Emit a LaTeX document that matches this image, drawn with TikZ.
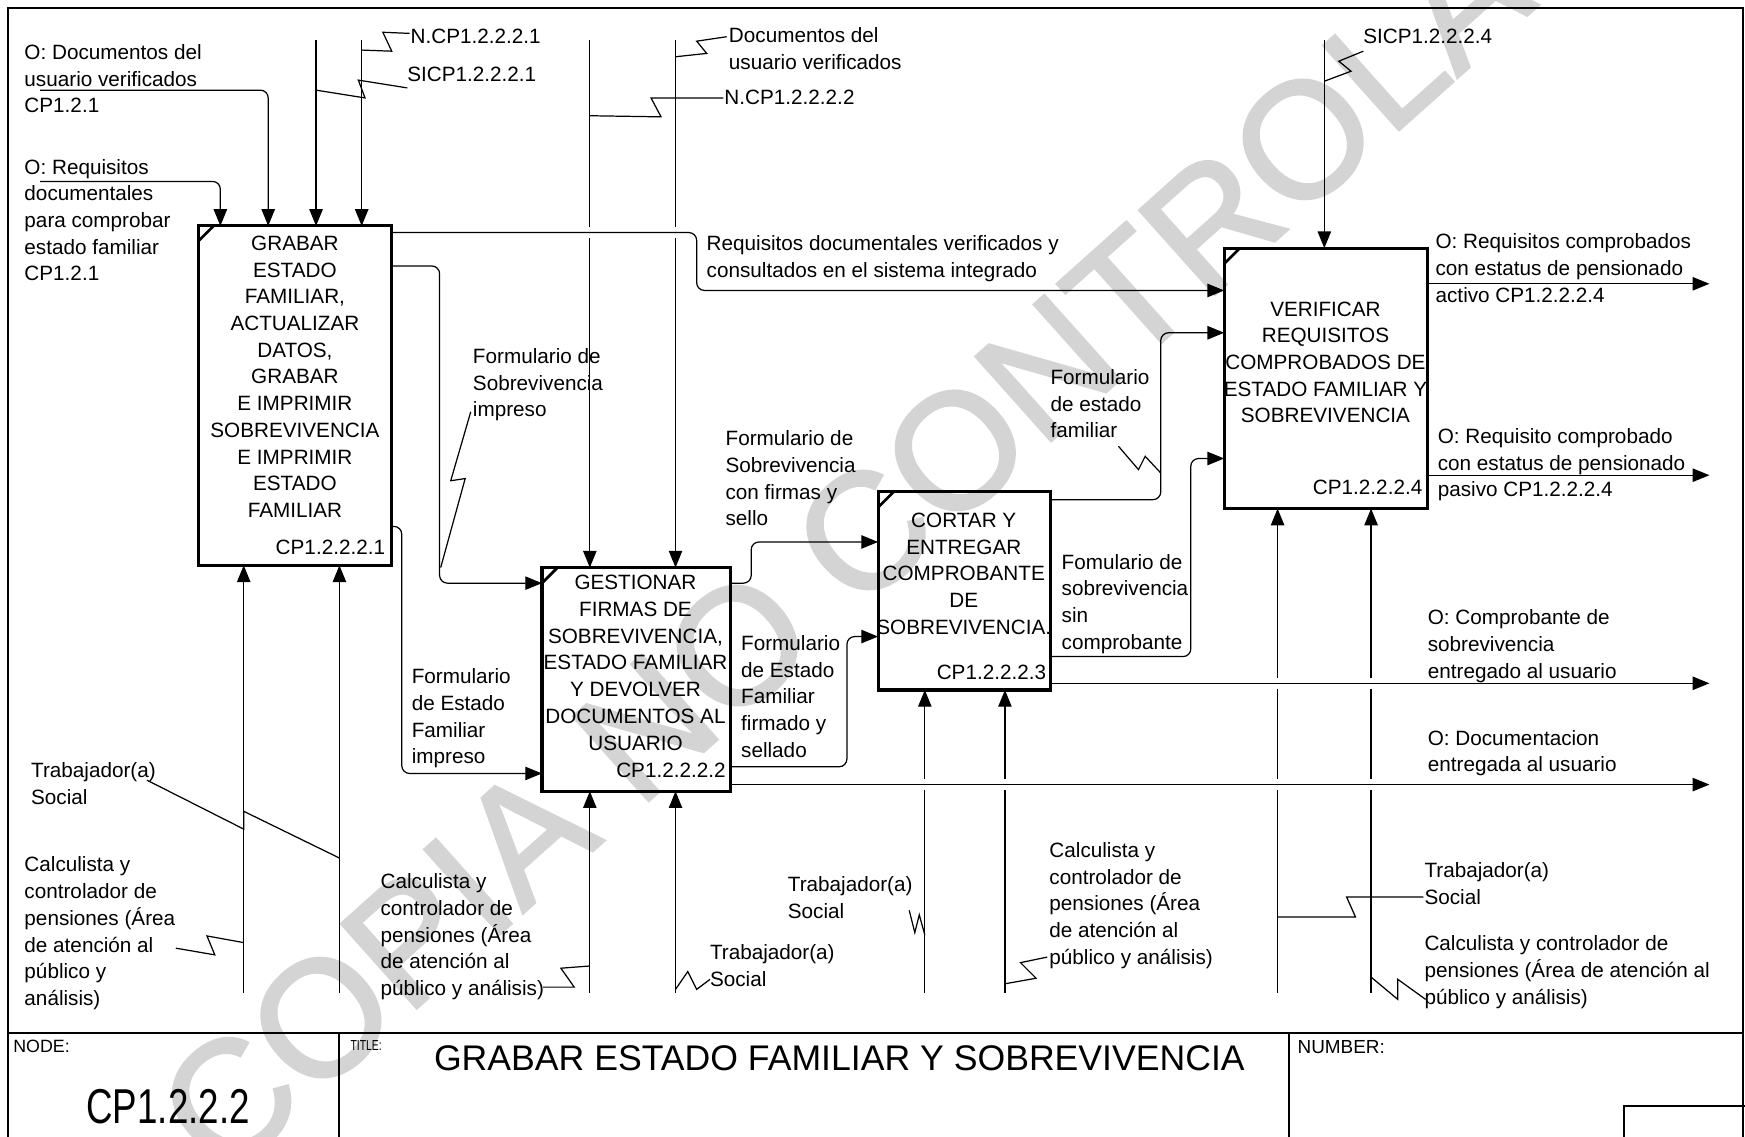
\documentclass[tikz,border=0pt]{standalone}
\usepackage{fontspec}
\setmainfont{Liberation Sans}
\newfontfamily\narrowfont{Liberation Sans}[FakeStretch=0.75]
\newfontfamily\tinyfont{Liberation Sans}[FakeStretch=0.72]
\newfontfamily\wmfont{Liberation Sans}[FakeBold=1.6]
\usetikzlibrary{arrows.meta,calc}
\begin{document}
\begin{tikzpicture}[x=0.5pt,y=-0.5pt,
  every node/.style={inner sep=0pt,outer sep=0pt},
  ln/.style={line width=0.55pt},
  arr/.style={ln, rounded corners=3.5pt, -{Triangle[length=7.5pt,width=6pt]}},
  sq/.style={ln, line join=miter},
  boxst/.style={draw, line width=1.4pt, anchor=north west},
  frame/.style={line width=0.9pt},
  lab/.style={anchor=north west, align=left, font=\fontsize{9.3}{12}\selectfont},
  btxt/.style={anchor=north, align=center, font=\fontsize{9.3}{12}\selectfont},
  num/.style={anchor=north east, font=\fontsize{9.3}{12}\selectfont},
  wm/.style={text=black!17, font=\wmfont\fontsize{74}{80}\selectfont},
]
\useasboundingbox (0,0) rectangle (1568,1021);
\fill[white] (0,0) rectangle (1568,1021);

% watermark
\node[wm, rotate=41.8, anchor=base west] (wmark) at (200,1062) {COPIA NO CONTROLADA};

% frame and footer
\draw[frame] (7,7) rectangle (1566,1030);
\draw[frame] (7,928) -- (1566,928);
\draw[frame] (305,928) -- (305,1030);
\draw[frame] (1158,928) -- (1158,1030);
\draw[frame] (1459,994) rectangle (1570,1030);
\node[anchor=north west, font=\fontsize{8}{9}\selectfont] (fnode) at (12,935) {NODE:};
\node[font=\narrowfont\fontsize{22}{24}\selectfont] (fnodeval) at (151,994) {CP1.2.2.2};
\node[anchor=north west, font=\tinyfont\fontsize{6.5}{7}\selectfont] (ftitle) at (315,935) {TITLE:};
\node[anchor=west, font=\fontsize{16}{18}\selectfont] (ftitleval) at (390,951) {GRABAR ESTADO FAMILIAR Y SOBREVIVENCIA};
\node[anchor=north west, font=\fontsize{8.5}{9}\selectfont] (fnumber) at (1166,935) {NUMBER:};

% boxes
\node[boxst, minimum width=87pt, minimum height=152.5pt] (b1) at (178,203) {};
\node[boxst, minimum width=84.5pt, minimum height=100.5pt] (b2) at (487,510) {};
\node[boxst, minimum width=77.5pt, minimum height=89pt] (b3) at (789,442) {};
\node[boxst, minimum width=91.5pt, minimum height=117pt] (b4) at (1100,223) {};
\foreach \b in {b1,b2,b3,b4}
  \draw[line width=1.2pt] ($(\b.north west)+(0,14)$) -- ($(\b.north west)+(14,0)$);

\node[btxt] (t1) at (265,212) {GRABAR\\ESTADO\\FAMILIAR,\\ACTUALIZAR\\DATOS,\\GRABAR\\E IMPRIMIR\\SOBREVIVENCIA\\E IMPRIMIR\\ESTADO\\FAMILIAR};
\node[btxt] (t2) at (571,517) {GESTIONAR\\FIRMAS DE\\SOBREVIVENCIA,\\ESTADO FAMILIAR\\Y DEVOLVER\\DOCUMENTOS AL\\USUARIO};
\node[btxt] (t3) at (866,461) {CORTAR Y\\ENTREGAR\\COMPROBANTE\\DE\\SOBREVIVENCIA.};
\node[btxt] (t4) at (1191,271) {VERIFICAR\\REQUISITOS\\COMPROBADOS DE\\ESTADO FAMILIAR Y\\SOBREVIVENCIA};
\node[num] (n1) at (346,485) {CP1.2.2.2.1};
\node[num] (n2) at (652,686) {CP1.2.2.2.2};
\node[num] (n3) at (940,598) {CP1.2.2.2.3};
\node[num] (n4) at (1278,431) {CP1.2.2.2.4};

% free ends
\coordinate (i1) at (36,81);
\coordinate (i2) at (36,163);
\coordinate (c1a) at (284,36);
\coordinate (c1b) at (325,36);
\coordinate (c2a) at (530,36);
\coordinate (c2b) at (607,36);
\coordinate (c4) at (1190,36);
\coordinate (m1a) at (219,892);
\coordinate (m1b) at (305,892);
\coordinate (m2a) at (530,892);
\coordinate (m2b) at (607,892);
\coordinate (m3a) at (831,892);
\coordinate (m3b) at (903,892);
\coordinate (m4a) at (1148,892);
\coordinate (m4b) at (1232,892);
\coordinate (o1) at (1536,255);
\coordinate (o2) at (1536,427);
\coordinate (o3) at (1536,614);
\coordinate (o4) at (1536,705);

% inputs to b1
\draw[arr] (i1) -- (241,81) -- (b1.north -| 241,0);
\draw[arr] (i2) -- (198,163) -- (b1.north -| 198,0);
% controls
\draw[arr] (c1a) -- (b1.north -| c1a);
\draw[arr] (c1b) -- (b1.north -| c1b);
\draw[arr] (c2a) -- (b2.north -| c2a);
\draw[arr] (c2b) -- (b2.north -| c2b);
\draw[arr] (c4) -- (b4.north -| c4);
% mechanisms
\draw[arr] (m1a) -- (b1.south -| m1a);
\draw[arr] (m1b) -- (b1.south -| m1b);
\draw[arr] (m2a) -- (b2.south -| m2a);
\draw[arr] (m2b) -- (b2.south -| m2b);
\draw[arr] (m3a) -- (b3.south -| m3a);
\draw[arr] (m3b) -- (b3.south -| m3b);
\draw[arr] (m4a) -- (b4.south -| m4a);
\draw[arr] (m4b) -- (b4.south -| m4b);

% gaps where horizontals cross verticals
\foreach \gx/\gy in {530/209,607/209,831/705,903/705,1148/705,1232/705,1148/614,1232/614}
  \fill[white] (\gx-3,\gy-5) rectangle (\gx+3,\gy+5);

% connectors between boxes and outputs
\draw[arr] (b1.east |- 0,209) -- (626,209) -- (626,261) -- (b4.west |- 0,261);
\draw[arr] (b1.east |- 0,239) -- (395,239) -- (395,524) -- (b2.west |- 0,524);
\draw[arr] (b1.east |- 0,473) -- (361,473) -- (361,695) -- (b2.west |- 0,695);
\draw[arr] (b2.east |- 0,524) -- (675,524) -- (675,487) -- (b3.west |- 0,487);
\draw[arr] (b2.east |- 0,689) -- (761,689) -- (761,572) -- (b3.west |- 0,572);
\draw[arr] (b2.east |- 0,705) -- (o4);
\draw[arr] (b3.east |- 0,449) -- (1043,449) -- (1043,299) -- (b4.west |- 0,299);
\draw[arr] (b3.east |- 0,590) -- (1070,590) -- (1070,412) -- (b4.west |- 0,412);
\draw[arr] (b3.east |- 0,614) -- (o3);
\draw[arr] (b4.east |- 0,255) -- (o1);
\draw[arr] (b4.east |- 0,427) -- (o2);

% squiggles
\draw[sq] (325,45) -- (352,46) -- (344,29) -- (368,30);
\draw[sq] (284,81) -- (328,88) -- (322,72) -- (366,79);
\draw[sq] (607,51) -- (635,48) -- (626,37) -- (653,33);
\draw[sq] (530,104) -- (594,105) -- (585,88) -- (650,88);
\draw[sq] (1190,73) -- (1214,64) -- (1203,55) -- (1225,46);
\draw[sq] (423,370) -- (405,432) -- (418,430) -- (396,510);
\draw[sq] (1005,401) -- (1023,422) -- (1029,410) -- (1043,425);
\draw[sq] (132,701) -- (219,745) -- (219,729) -- (305,771);
\draw[sq] (158,852) -- (193,858) -- (186,841) -- (219,847);
\draw[sq] (488,887) -- (516,887) -- (504,870) -- (530,868);
\draw[sq] (607,889) -- (618,873) -- (626,889) -- (638,880);
\draw[sq] (817,818) -- (822,838) -- (826,822) -- (831,840);
\draw[sq] (903,884) -- (931,879) -- (917,865) -- (941,860);
\draw[sq] (1148,824) -- (1218,824) -- (1210,806) -- (1279,806);
\draw[sq] (1232,878) -- (1256,898) -- (1256,880) -- (1281,898);

% labels
\node[lab] (l1) at (22,40) {O: Documentos del\\usuario verificados\\CP1.2.1};
\node[lab] (l2) at (22,143) {O: Requisitos\\documentales\\para comprobar\\estado familiar\\CP1.2.1};
\node[lab] (l3) at (369,26) {N.CP1.2.2.2.1};
\node[lab] (l4) at (366,60) {SICP1.2.2.2.1};
\node[lab] (l5) at (655,25) {Documentos del\\usuario verificados};
\node[lab] (l6) at (651,81) {N.CP1.2.2.2.2};
\node[lab] (l7) at (1225,26) {SICP1.2.2.2.4};
\node[lab] (l8) at (635,212) {Requisitos documentales verificados y\\consultados en el sistema integrado};
\node[lab] (l9) at (1290,210) {O: Requisitos comprobados\\con estatus de pensionado\\activo CP1.2.2.2.4};
\node[lab] (l10) at (425,313) {Formulario de\\Sobrevivencia\\impreso};
\node[lab] (l11) at (944,332) {Formulario\\de estado\\familiar};
\node[lab] (l12) at (1292,385) {O: Requisito comprobado\\con estatus de pensionado\\pasivo CP1.2.2.2.4};
\node[lab] (l13) at (652,387) {Formulario de\\Sobrevivencia\\con firmas y\\sello};
\node[lab] (l14) at (954,498) {Fomulario de\\sobrevivencia\\sin\\comprobante};
\node[lab] (l15) at (1283,548) {O: Comprobante de\\sobrevivencia\\entregado al usuario};
\node[lab] (l16) at (666,571) {Formulario\\de Estado\\Familiar\\firmado y\\sellado};
\node[lab] (l17) at (370,601) {Formulario\\de Estado\\Familiar\\impreso};
\node[lab] (l18) at (1283,656) {O: Documentacion\\entregada al usuario};
\node[lab] (l19) at (28,685) {Trabajador(a)\\Social};
\node[lab] (l20) at (22,770) {Calculista y\\controlador de\\pensiones (Área\\de atención al\\público y\\análisis)};
\node[lab] (l21) at (342,785) {Calculista y\\controlador de\\pensiones (Área\\de atención al\\público y análisis)};
\node[lab] (l22) at (638,849) {Trabajador(a)\\Social};
\node[lab] (l23) at (708,788) {Trabajador(a)\\Social};
\node[lab] (l24) at (943,757) {Calculista y\\controlador de\\pensiones (Área\\de atención al\\público y análisis)};
\node[lab] (l25) at (1280,775) {Trabajador(a)\\Social};
\node[lab] (l26) at (1280,841) {Calculista y controlador de\\pensiones (Área de atención al\\público y análisis)};
\end{tikzpicture}
\end{document}
